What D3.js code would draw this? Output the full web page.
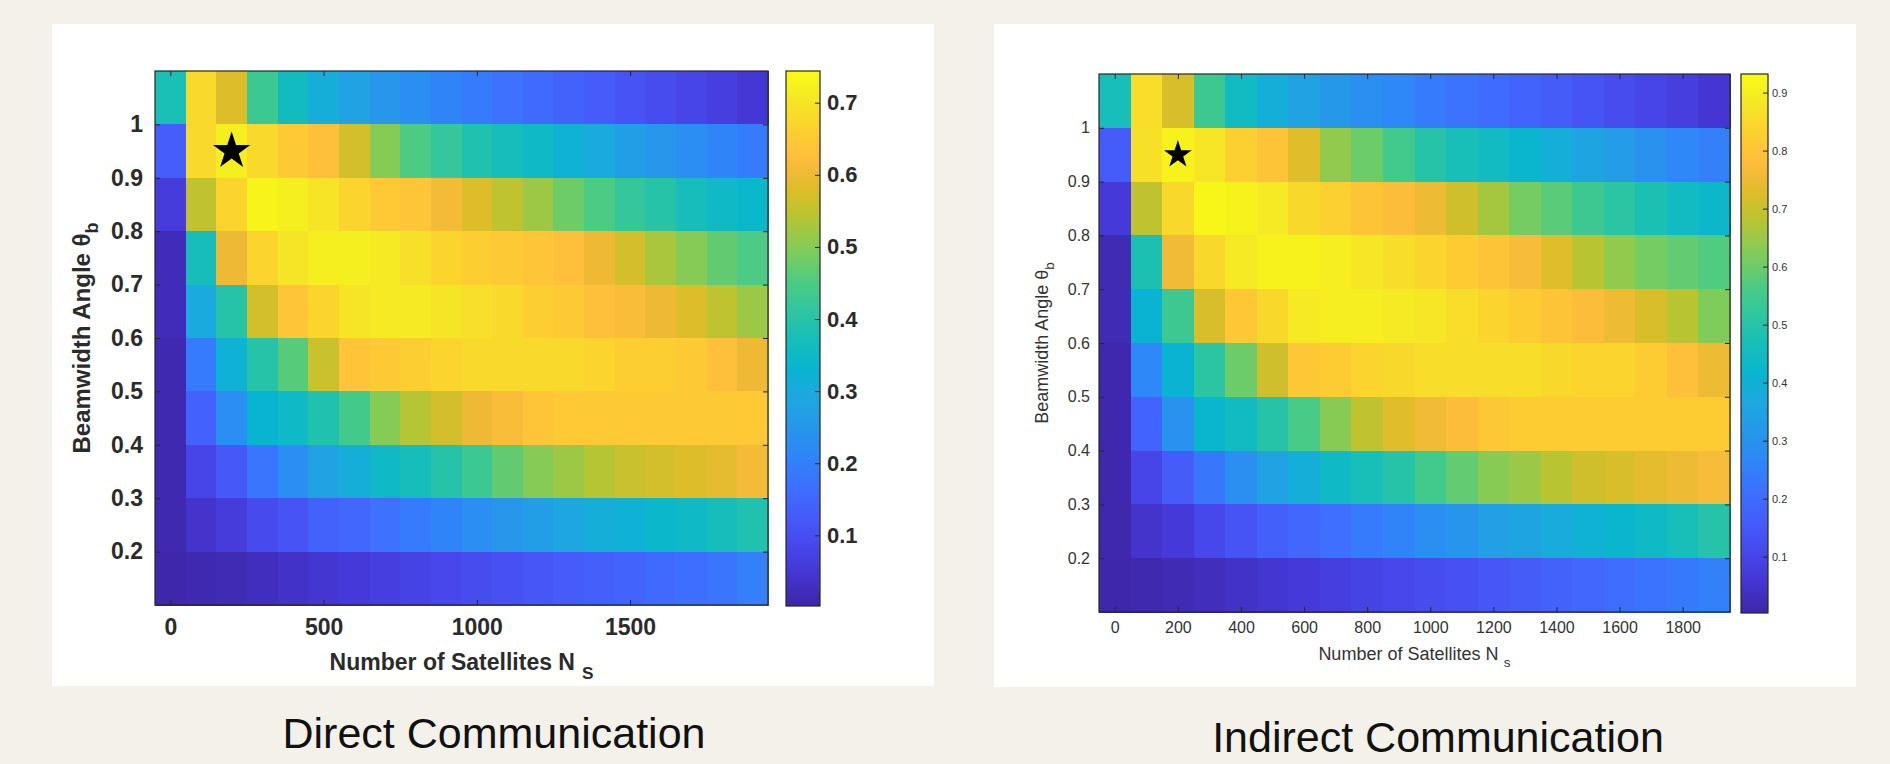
<!DOCTYPE html>
<html>
<head>
<meta charset="utf-8">
<script src="https://cdn.jsdelivr.net/npm/d3@7"></script>
<style>
  body { margin: 0; background: #f3f1ea; }
  svg text { font-family: Arial, "Liberation Sans", sans-serif; }
</style>
</head>
<body>
<div id="chart"></div>
<script>
// ---- data ----
const nSat = [0, 100, 200, 300, 400, 500, 600, 700, 800, 900, 1000, 1100, 1200, 1300, 1400, 1500, 1600, 1700, 1800, 1900]
// lower edge of each beamwidth row, top row first (each row is 0.1 tall)
const beamLow = [1.0, 0.9, 0.8, 0.7, 0.6, 0.5, 0.4, 0.3, 0.2, 0.1]

const directCov = [
  [0.38, 0.68, 0.58, 0.43, 0.36, 0.31, 0.28, 0.25, 0.23, 0.21, 0.19, 0.17, 0.155, 0.14, 0.125, 0.11, 0.095, 0.08, 0.065, 0.05],
  [0.13, 0.68, 0.72, 0.68, 0.65, 0.63, 0.57, 0.50, 0.45, 0.42, 0.39, 0.37, 0.35, 0.32, 0.30, 0.27, 0.25, 0.23, 0.21, 0.19],
  [0.06, 0.55, 0.67, 0.73, 0.72, 0.70, 0.67, 0.65, 0.64, 0.61, 0.58, 0.55, 0.52, 0.48, 0.45, 0.42, 0.40, 0.37, 0.35, 0.34],
  [0.02, 0.37, 0.60, 0.67, 0.70, 0.72, 0.72, 0.71, 0.69, 0.67, 0.66, 0.65, 0.64, 0.63, 0.60, 0.57, 0.53, 0.50, 0.47, 0.45],
  [0.02, 0.30, 0.40, 0.57, 0.64, 0.67, 0.70, 0.71, 0.71, 0.70, 0.69, 0.68, 0.66, 0.65, 0.63, 0.62, 0.60, 0.58, 0.55, 0.52],
  [0.01, 0.19, 0.32, 0.40, 0.46, 0.56, 0.64, 0.65, 0.66, 0.67, 0.68, 0.68, 0.68, 0.68, 0.67, 0.66, 0.66, 0.65, 0.63, 0.60],
  [0.01, 0.14, 0.23, 0.33, 0.35, 0.39, 0.44, 0.50, 0.54, 0.57, 0.60, 0.62, 0.64, 0.65, 0.65, 0.65, 0.65, 0.65, 0.65, 0.65],
  [0.01, 0.08, 0.12, 0.18, 0.23, 0.28, 0.31, 0.35, 0.37, 0.40, 0.43, 0.47, 0.50, 0.52, 0.54, 0.56, 0.57, 0.58, 0.59, 0.61],
  [0.01, 0.04, 0.06, 0.09, 0.11, 0.14, 0.15, 0.17, 0.19, 0.21, 0.23, 0.25, 0.27, 0.29, 0.31, 0.32, 0.34, 0.35, 0.37, 0.39],
  [0.005, 0.01, 0.015, 0.025, 0.035, 0.045, 0.055, 0.065, 0.075, 0.085, 0.095, 0.105, 0.115, 0.125, 0.135, 0.145, 0.155, 0.165, 0.18, 0.20]
]

const indirectCov = [
  [0.47, 0.86, 0.72, 0.54, 0.45, 0.39, 0.35, 0.32, 0.29, 0.27, 0.24, 0.22, 0.20, 0.18, 0.16, 0.14, 0.12, 0.10, 0.08, 0.06],
  [0.16, 0.87, 0.91, 0.88, 0.83, 0.80, 0.73, 0.64, 0.60, 0.55, 0.50, 0.47, 0.45, 0.42, 0.39, 0.36, 0.33, 0.30, 0.27, 0.25],
  [0.07, 0.69, 0.85, 0.92, 0.91, 0.89, 0.85, 0.83, 0.80, 0.78, 0.75, 0.71, 0.66, 0.61, 0.58, 0.54, 0.51, 0.48, 0.45, 0.43],
  [0.02, 0.48, 0.76, 0.85, 0.89, 0.91, 0.91, 0.90, 0.88, 0.86, 0.84, 0.82, 0.80, 0.77, 0.73, 0.68, 0.64, 0.61, 0.59, 0.57],
  [0.02, 0.41, 0.54, 0.72, 0.81, 0.85, 0.89, 0.90, 0.90, 0.89, 0.88, 0.86, 0.84, 0.82, 0.80, 0.78, 0.75, 0.72, 0.68, 0.62],
  [0.01, 0.27, 0.41, 0.51, 0.60, 0.71, 0.81, 0.82, 0.84, 0.85, 0.86, 0.86, 0.86, 0.86, 0.85, 0.84, 0.84, 0.82, 0.79, 0.75],
  [0.01, 0.18, 0.30, 0.42, 0.45, 0.50, 0.56, 0.63, 0.69, 0.73, 0.76, 0.78, 0.81, 0.82, 0.82, 0.82, 0.82, 0.82, 0.82, 0.82],
  [0.01, 0.10, 0.16, 0.23, 0.29, 0.35, 0.39, 0.44, 0.47, 0.50, 0.55, 0.59, 0.63, 0.65, 0.68, 0.71, 0.72, 0.74, 0.75, 0.77],
  [0.01, 0.05, 0.07, 0.11, 0.14, 0.17, 0.19, 0.21, 0.24, 0.26, 0.29, 0.31, 0.34, 0.36, 0.38, 0.40, 0.42, 0.44, 0.47, 0.50],
  [0.006, 0.012, 0.02, 0.03, 0.045, 0.057, 0.07, 0.082, 0.095, 0.107, 0.12, 0.133, 0.145, 0.16, 0.175, 0.19, 0.205, 0.22, 0.235, 0.25]
]

const beamTicks = [0.2, 0.3, 0.4, 0.5, 0.6, 0.7, 0.8, 0.9, 1]
const directXTicks = [0, 500, 1000, 1500]
const indirectXTicks = [0, 200, 400, 600, 800, 1000, 1200, 1400, 1600, 1800]
const directCbTicks = [0.1, 0.2, 0.3, 0.4, 0.5, 0.6, 0.7]
const indirectCbTicks = [0.1, 0.2, 0.3, 0.4, 0.5, 0.6, 0.7, 0.8, 0.9]
const directRange = [0.002, 0.744]
const indirectRange = [0.003, 0.932]
const bestPoint = [200, 0.95]
const titles = ['Direct Communication', 'Indirect Communication']

// parula (matlab) colour stops, position on 0..1
const parulaPos = [0, 4, 7, 10, 14, 18, 21, 25, 28, 32, 35, 38, 42, 46, 49, 51, 53, 56, 60, 63].map(i => i / 63)
const parulaCol = ['#3e26a8', '#4537d5', '#4747eb', '#4758f8', '#3e6fff', '#2e87f7', '#2796eb', '#1ca9df', '#08b5d0', '#19bfb6',
  '#31c69f', '#4acb84', '#81cc59', '#b9c431', '#dcbd29', '#f0ba36', '#febe3c', '#fccf30', '#f5e924', '#f9fb15']

// ---- drawing ----
const W = 1890, H = 764

const svg = d3.select('#chart')
  .append('svg')
  .attr('width', W)
  .attr('height', H)

svg.append('rect').attr('width', W).attr('height', H).attr('fill', '#f3f1ea')

const panels = [
  {
    values: directCov, xTicks: directXTicks, cbTicks: directCbTicks, range: directRange, title: titles[0],
    box: {x: 52, y: 24, w: 882, h: 662},
    plot: {x0: 155, x1: 768, y0: 71, y1: 605},
    cb: {x0: 786, x1: 820},
    tickFont: 23, weight: 'bold', cbFont: 22, labelFont: 23, yLabelFont: 24, txt: '#2b2b2b',
    yPad: 12, xPad: 14, cbPad: 7,
    yLabelX: 90, xLabelY: 670, sub: 'S', starSize: 430,
    titleX: 494, titleY: 748
  },
  {
    values: indirectCov, xTicks: indirectXTicks, cbTicks: indirectCbTicks, range: indirectRange, title: titles[1],
    box: {x: 994, y: 24, w: 862, h: 663},
    plot: {x0: 1099, x1: 1730, y0: 74, y1: 612},
    cb: {x0: 1741, x1: 1768},
    tickFont: 16, weight: 'normal', cbFont: 11, labelFont: 18, yLabelFont: 18, txt: '#333',
    yPad: 9, xPad: 10, cbPad: 4,
    yLabelX: 1048, xLabelY: 660, sub: 's', starSize: 240,
    titleX: 1438, titleY: 752
  }
]

function styleAxis(g, p, showText){
  g.select('.domain').remove()
  g.selectAll('line').attr('stroke', '#262626').attr('stroke-width', 1)
  g.selectAll('text')
    .attr('fill', p.txt)
    .attr('font-size', p.tickFont)
    .attr('font-weight', p.weight)
    .attr('font-family', 'Arial, "Liberation Sans", sans-serif')
  if (!showText) g.selectAll('text').remove()
}

function drawPanel(p, idx){
  const g = svg.append('g')

  g.append('rect')
    .attr('x', p.box.x).attr('y', p.box.y)
    .attr('width', p.box.w).attr('height', p.box.h)
    .attr('fill', '#ffffff')

  const x = d3.scaleLinear().domain([-50, 1950]).range([p.plot.x0, p.plot.x1])
  const y = d3.scaleLinear().domain([0.1, 1.1]).range([p.plot.y1, p.plot.y0])

  const lo = p.range[0], hi = p.range[1]
  const color = d3.scaleLinear()
    .domain(parulaPos.map(t => lo + t * (hi - lo)))
    .range(parulaCol)
    .interpolate(d3.interpolateRgb)
    .clamp(true)

  // cells
  const cells = []
  p.values.forEach((row, r) => {
    row.forEach((v, c) => cells.push({n: nSat[c], b: beamLow[r], v: v}))
  })

  g.append('g')
    .selectAll('rect')
    .data(cells)
    .join('rect')
    .attr('x', d => x(d.n - 50))
    .attr('y', d => y(d.b + 0.1))
    .attr('width', d => x(d.n + 50) - x(d.n - 50) + 0.5)
    .attr('height', d => y(d.b) - y(d.b + 0.1) + 0.5)
    .attr('fill', d => color(d.v))
    .attr('shape-rendering', 'crispEdges')

  // axes: ticks point inward on all four sides
  const h = p.plot.y1 - p.plot.y0, w = p.plot.x1 - p.plot.x0

  g.append('g')
    .attr('transform', `translate(${p.plot.x0},0)`)
    .call(d3.axisLeft(y).tickValues(beamTicks).tickSizeInner(-5).tickSizeOuter(0).tickPadding(p.yPad).tickFormat(d3.format('~g')))
    .call(a => styleAxis(a, p, true))

  g.append('g')
    .attr('transform', `translate(${p.plot.x1},0)`)
    .call(d3.axisRight(y).tickValues(beamTicks).tickSizeInner(-5).tickSizeOuter(0))
    .call(a => styleAxis(a, p, false))

  g.append('g')
    .attr('transform', `translate(0,${p.plot.y1})`)
    .call(d3.axisBottom(x).tickValues(p.xTicks).tickSizeInner(-5).tickSizeOuter(0).tickPadding(p.xPad).tickFormat(d3.format('d')))
    .call(a => styleAxis(a, p, true))

  g.append('g')
    .attr('transform', `translate(0,${p.plot.y0})`)
    .call(d3.axisTop(x).tickValues(p.xTicks).tickSizeInner(-5).tickSizeOuter(0))
    .call(a => styleAxis(a, p, false))

  g.append('rect')
    .attr('x', p.plot.x0).attr('y', p.plot.y0)
    .attr('width', w).attr('height', h)
    .attr('fill', 'none')
    .attr('stroke', '#262626')
    .attr('stroke-width', 1.2)

  // best point
  g.append('path')
    .attr('d', d3.symbol(d3.symbolStar, p.starSize)())
    .attr('transform', `translate(${x(bestPoint[0])},${y(bestPoint[1])})`)
    .attr('fill', '#000')

  // colour bar
  const cbScale = d3.scaleLinear().domain([lo, hi]).range([p.plot.y1 + 1, p.plot.y0])
  const gradId = 'parula' + idx
  const grad = svg.append('defs').append('linearGradient')
    .attr('id', gradId)
    .attr('x1', 0).attr('y1', 1).attr('x2', 0).attr('y2', 0)
  grad.selectAll('stop')
    .data(parulaPos)
    .join('stop')
    .attr('offset', t => t)
    .attr('stop-color', (t, i) => parulaCol[i])

  g.append('rect')
    .attr('x', p.cb.x0).attr('y', p.plot.y0)
    .attr('width', p.cb.x1 - p.cb.x0).attr('height', p.plot.y1 + 1 - p.plot.y0)
    .attr('fill', `url(#${gradId})`)
    .attr('stroke', '#262626')
    .attr('stroke-width', 1.2)

  g.append('g')
    .attr('transform', `translate(${p.cb.x1},0)`)
    .call(d3.axisRight(cbScale).tickValues(p.cbTicks).tickSizeInner(-5).tickSizeOuter(0).tickPadding(p.cbPad).tickFormat(d3.format('.1f')))
    .call(a => styleAxis(a, p, true))
    .call(a => a.selectAll('text').attr('font-size', p.cbFont))

  // axis labels
  const xl = g.append('text')
    .attr('x', (p.plot.x0 + p.plot.x1) / 2)
    .attr('y', p.xLabelY)
    .attr('text-anchor', 'middle')
    .attr('font-size', p.labelFont)
    .attr('font-weight', p.weight)
    .attr('fill', p.txt)
  xl.append('tspan').text('Number of Satellites N')
  xl.append('tspan').attr('dx', p.labelFont * 0.3).attr('dy', p.labelFont * 0.4)
    .attr('font-size', p.labelFont * 0.75).text(p.sub)

  const yl = g.append('text')
    .attr('transform', `translate(${p.yLabelX},${(p.plot.y0 + p.plot.y1) / 2}) rotate(-90)`)
    .attr('text-anchor', 'middle')
    .attr('font-size', p.yLabelFont)
    .attr('font-weight', p.weight)
    .attr('fill', p.txt)
  yl.append('tspan').text('Beamwidth Angle \u03B8')
  yl.append('tspan').attr('dy', p.yLabelFont * 0.35)
    .attr('font-size', p.yLabelFont * 0.75).text('b')

  // caption below the panel
  svg.append('text')
    .attr('x', p.titleX)
    .attr('y', p.titleY)
    .attr('text-anchor', 'middle')
    .attr('font-size', 43)
    .attr('fill', '#111')
    .text(p.title)
}

panels.forEach(drawPanel)
</script>
</body>
</html>
